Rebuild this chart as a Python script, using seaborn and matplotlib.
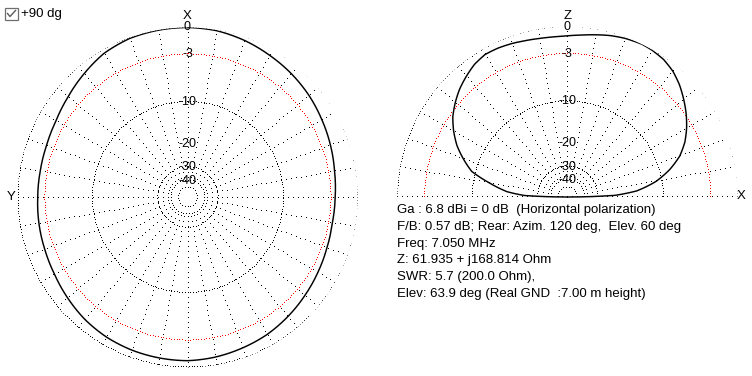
import numpy as np
import pandas as pd
import matplotlib
matplotlib.use("Agg")
import matplotlib.pyplot as plt
import seaborn as sns
from matplotlib.patches import Rectangle
from matplotlib.lines import Line2D

# ---------------- data ----------------
# Azimuth pattern (left), angle clockwise from X (top), dB
azim_deg = [0, 10, 20, 30, 40, 50, 60, 70, 80, 90, 100, 110, 120, 130, 140, 150, 160, 170,
            180, 190, 200, 210, 220, 230, 240, 250, 260, 270, 280, 290, 300, 310, 320, 330, 340, 350]
azim_db = [0.0, -0.07, -0.3, -0.6, -0.88, -1.2, -1.58, -1.92, -2.25, -2.45, -2.52, -2.38, -2.13,
           -1.84, -1.52, -1.22, -1.03, -0.84, -0.71, -0.74, -0.79, -0.9, -1.12, -1.45, -1.77,
           -1.96, -2.08, -2.2, -2.22, -2.15, -1.93, -1.48, -0.92, -0.35, -0.08, -0.02]

# Elevation pattern (right), angle counter-clockwise from +X (right), dB
elev_deg = [0, 2, 5, 10, 15, 20, 25, 30, 35, 40, 45, 50, 55, 60, 64, 70, 75, 80, 85, 90,
            95, 100, 105, 110, 115, 120, 125, 130, 135, 140, 145, 150, 155, 160, 165, 170,
            175, 178, 180]
elev_db = [-99, -22, -15.5, -11.0, -8.2, -6.1, -4.7, -3.65, -2.75, -1.95, -1.2, -0.6, -0.22,
           -0.05, 0.0, -0.12, -0.3, -0.55, -0.78, -0.93, -0.98, -0.95, -0.85, -0.71, -0.6,
           -0.57, -0.85, -1.35, -1.9, -2.6, -3.4, -4.5, -5.8, -7.5, -9.4, -13.5, -18.0, -24.0, -99]

ring_db = [0, -3, -10, -30, -40, -50]
label_db = [0, -3, -10, -20, -30, -40]
label_txt = ["0", "-3", "-10", "-20", "-30", "-40"]

info_lines = [
    "Ga : 6.8 dBi = 0 dB  (Horizontal polarization)",
    "F/B: 0.57 dB; Rear: Azim. 120 deg,  Elev. 60 deg",
    "Freq: 7.050 MHz",
    "Z: 61.935 + j168.814 Ohm",
    "SWR: 5.7 (200.0 Ohm),",
    "Elev: 63.9 deg (Real GND  :7.00 m height)",
]

# ---------------- helpers ----------------
def db2r(db):
    return 10 ** (np.asarray(db, dtype=float) / 40.0)

W, H = 752, 376
FONT = ["Liberation Sans", "DejaVu Sans"]
FS = 9.5
FS_LAB = 9.0
plt.rcParams['font.family'] = FONT

fig = plt.figure(figsize=(W / 100, H / 100), dpi=100)
fig.patch.set_facecolor("white")

R = 170  # plot radius in pixels
RING_STEP = 2.7   # px between dots on rings
SPOKE_STEP = 5.0  # px between dots on spokes

def setup(ax):
    ax.set_axis_off()
    ax.patch.set_alpha(0)

def draw_grid(ax, full):
    tmax = 2 * np.pi if full else np.pi
    for db in ring_db:
        col = "red" if db == -3 else "black"
        rr = float(db2r(db))
        n = int(tmax * rr * R / RING_STEP)
        th = np.linspace(0, tmax, n + 1)
        ax.plot(th, np.full_like(th, rr), ls="none", marker=",", color=col)
    angs = np.arange(0, 360, 10) if full else np.arange(0, 181, 10)
    for a in angs:
        t = np.deg2rad(a)
        r0 = float(db2r(-40))
        if not full and a in (0, 180):
            r0 = 0.0
        rs = np.arange(1.0, r0, -SPOKE_STEP / R)
        ax.plot(np.full_like(rs, t), rs, ls="none", marker=",", color="black")

def draw_labels(ax, theta):
    for db, txt in zip(label_db, label_txt):
        ax.text(theta, db2r(db), txt, ha="center", va="center", fontsize=FS_LAB,
                color="black", zorder=5)

def curve(ax, df):
    n_before = len(ax.lines)
    sns.lineplot(data=df, x="theta", y="r", ax=ax, sort=False, estimator=None,
                 color="black", linewidth=1.05)
    for ln in ax.lines[n_before:]:
        ln.get_path()._interpolation_steps = 16

# ---------------- left: azimuth ----------------
cxL, cyL = 187.5, 197.5
axL = fig.add_axes([(cxL - R) / W, (H - cyL - R) / H, 2 * R / W, 2 * R / H], projection="polar")
axL.set_theta_zero_location("N")
axL.set_theta_direction(-1)
setup(axL)
draw_grid(axL, True)
dfA = pd.DataFrame({"theta": np.deg2rad(azim_deg + [azim_deg[0] + 360]),
                    "r": db2r(azim_db + [azim_db[0]])})
curve(axL, dfA)
axL.set_ylim(0, 1)
draw_labels(axL, 0.0)
axL.set_axis_off()

# ---------------- right: elevation ----------------
cxR, cyR = 567.3, 197
axR = fig.add_axes([(cxR - R) / W, (H - cyR - R) / H, 2 * R / W, 2 * R / H], projection="polar")
axR.set_theta_zero_location("E")
axR.set_theta_direction(1)
setup(axR)
draw_grid(axR, False)
dfE = pd.DataFrame({"theta": np.deg2rad(elev_deg), "r": db2r(elev_db)})
curve(axR, dfE)
axR.set_ylim(0, 1)
draw_labels(axR, np.pi / 2)
axR.set_axis_off()

# ---------------- axis letters ----------------
def ftext(x, y, s, **kw):
    kw.setdefault("fontsize", FS)
    kw.setdefault("color", "black")
    fig.text(x / W, 1 - y / H, s, **kw)

ftext(187.5, 16, "X", ha="center", va="center")
ftext(11, 197, "Y", ha="center", va="center")
ftext(567.3, 16, "Z", ha="center", va="center")
ftext(741.5, 196, "X", ha="center", va="center")

# info text
for i, line in enumerate(info_lines):
    ftext(397, 210 + i * 16.8, line, ha="left", va="center")

# checkbox
fig.patches.append(Rectangle((5 / W, 1 - 19.5 / H), 12.5 / W, 11.5 / H, transform=fig.transFigure,
                             fill=False, edgecolor="#6e6e6e", linewidth=0.9))
fig.lines.append(Line2D([7.5 / W, 10 / W, 15.5 / W], [1 - 13.5 / H, 1 - 16.5 / H, 1 - 10.5 / H],
                        transform=fig.transFigure, color="#5a5a5a", linewidth=1.0))
ftext(21, 14, "+90 dg", ha="left", va="center")

fig.savefig("out.png", dpi=100, facecolor="white")
